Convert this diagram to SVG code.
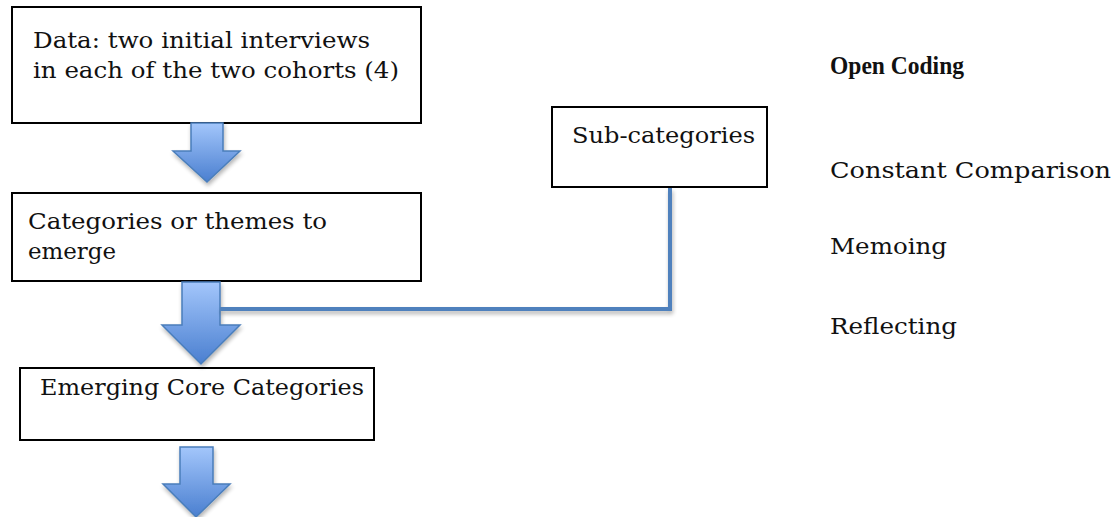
<svg xmlns="http://www.w3.org/2000/svg" width="1114" height="517" viewBox="0 0 1114 517">
<style>
.box{fill:#fff;stroke:#000;stroke-width:2}
.t{font-family:"DejaVu Serif","Liberation Serif",serif;font-size:23px;fill:#111}
.b{font-family:"Liberation Serif",serif;font-size:25px;font-weight:bold}
.arr{fill:url(#g);stroke:#4a7ebb;stroke-width:1.5;filter:url(#sh)}
.con{fill:none;stroke:#4f81bd;stroke-width:4;filter:url(#sh)}
</style>
<defs>
<linearGradient id="g" x1="0" y1="0" x2="0" y2="1">
<stop offset="0" stop-color="#a3c6fb"/>
<stop offset="1" stop-color="#4a7fd0"/>
</linearGradient>
<filter id="sh" x="-20%" y="-20%" width="140%" height="140%">
<feGaussianBlur in="SourceAlpha" stdDeviation="2"/>
<feOffset dx="1" dy="3" result="o"/>
<feComponentTransfer><feFuncA type="linear" slope="0.3"/></feComponentTransfer>
<feMerge><feMergeNode/><feMergeNode in="SourceGraphic"/></feMerge>
</filter>
</defs>
<g id="n1">
<rect class="box" x="12" y="7" width="409" height="116"/>
<text class="t" x="33" y="48" textLength="337" lengthAdjust="spacingAndGlyphs">Data: two initial interviews</text>
<text class="t" x="33" y="78" textLength="366" lengthAdjust="spacingAndGlyphs">in each of the two cohorts (4)</text>
</g>
<g id="n2">
<rect class="box" x="12" y="193" width="409" height="88"/>
<text class="t" x="28" y="229" textLength="299" lengthAdjust="spacingAndGlyphs">Categories or themes to</text>
<text class="t" x="28" y="259" textLength="88" lengthAdjust="spacingAndGlyphs">emerge</text>
</g>
<g id="n3">
<rect class="box" x="20" y="368" width="354" height="72"/>
<text class="t" x="40" y="395" textLength="324" lengthAdjust="spacingAndGlyphs">Emerging Core Categories</text>
</g>
<g id="n4">
<rect class="box" x="552" y="107" width="215" height="80"/>
<text class="t" x="572" y="143" textLength="183" lengthAdjust="spacingAndGlyphs">Sub-categories</text>
</g>
<g id="labels">
<text class="t b" x="830" y="74" textLength="134" lengthAdjust="spacingAndGlyphs">Open Coding</text>
<text class="t" x="830" y="178" textLength="281" lengthAdjust="spacingAndGlyphs">Constant Comparison</text>
<text class="t" x="830" y="254" textLength="117" lengthAdjust="spacingAndGlyphs">Memoing</text>
<text class="t" x="830" y="334" textLength="127" lengthAdjust="spacingAndGlyphs">Reflecting</text>
</g>
<g id="connectors">
<path class="arr" d="M191,123 H223 V151 H240 L207,182 L173,151 H191 Z"/>
<path class="arr" d="M182,282 H220 V325 H240 L201,364 L162,325 H182 Z"/>
<path class="arr" d="M180,447 H213 V484 H230 L196,517 L163,484 H180 Z"/>
<polyline class="con" points="220,309 670,309 670,188"/>
</g>
</svg>
